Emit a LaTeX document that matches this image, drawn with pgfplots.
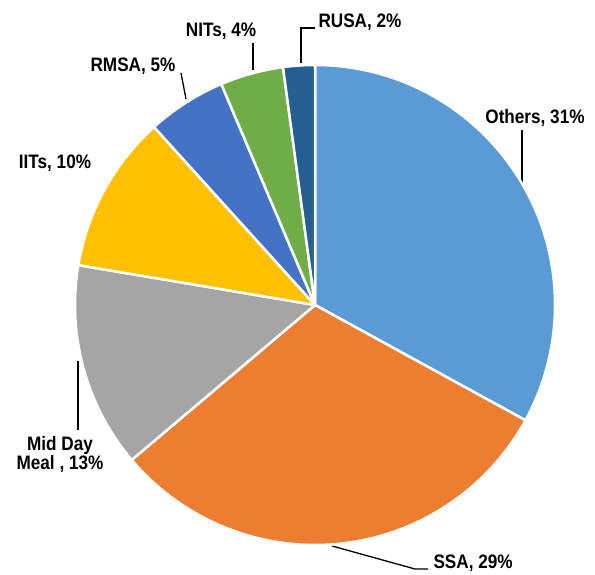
\documentclass[border=0pt]{standalone}
\usepackage{fontspec}
\setmainfont{Liberation Sans}[FakeStretch=0.88]
\usepackage{pgfplots}
\usepackage{pgfplotstable}
\pgfplotsset{compat=1.18}

\definecolor{pc0}{HTML}{5B9BD5}% Others
\definecolor{pc1}{HTML}{ED7D31}% SSA
\definecolor{pc2}{HTML}{A5A5A5}% Mid Day Meal
\definecolor{pc3}{HTML}{FFC000}% IITs
\definecolor{pc4}{HTML}{4472C4}% RMSA
\definecolor{pc5}{HTML}{70AD47}% NITs
\definecolor{pc6}{HTML}{255E91}% RUSA

% share of each scheme (%), cum = sum of the slices before it
\pgfplotstableread{
x   y   val cum idx
315 269 31  0   0
315 269 29  31  1
315 269 13  60  2
315 269 10  73  3
315 269 5   83  4
315 269 4   88  5
315 269 2   92  6
}\piedata
\def\total{94}

\begin{document}
\begin{tikzpicture}
\begin{axis}[
  x=1pt, y=1pt,
  xmin=0, xmax=595, ymin=0, ymax=574,
  hide axis, clip=false,
  font=\bfseries\fontsize{19.5}{20}\selectfont,
]
\path (axis cs:0,0) rectangle (axis cs:595,574);

% slices
\addplot[
  only marks, scatter, mark=*, mark size=0pt,
  mark options={draw opacity=0, fill opacity=0},
  visualization depends on={\thisrow{val} \as \val},
  visualization depends on={\thisrow{cum} \as \cum},
  visualization depends on={\thisrow{idx} \as \idx},
  scatter/@pre marker code/.code={%
    \pgfmathsetmacro\sa{90-\cum/\total*360}%
    \pgfmathsetmacro\ea{90-(\cum+\val)/\total*360}%
    \pgfmathtruncatemacro\k{\idx}%
    \filldraw[fill=pc\k, draw=white, fill opacity=1, draw opacity=1,
      line width=2.5pt, line join=round]
      (0,0) -- (\sa:240pt) arc[start angle=\sa, end angle=\ea, radius=240pt] -- cycle;
  },
  scatter/@post marker code/.code={},
] table[x=x, y=y] {\piedata};

% leader lines
\addplot[black, line width=1.3pt] coordinates {(522,444) (522,392)};
\addplot[black, line width=1.3pt] coordinates {(332,28) (415,5) (428,5)};
\addplot[black, line width=1.3pt] coordinates {(78,213) (78,144)};
\addplot[black, line width=1.3pt] coordinates {(181,501) (186,475)};
\addplot[black, line width=1.3pt] coordinates {(253,531) (253,504)};
\addplot[black, line width=1.3pt] coordinates {(301,511) (301,546) (315,546)};

% labels
\node at (axis cs:535,456) {Others, 31\%};
\node[anchor=west] at (axis cs:430,11) {SSA, 29\%};
\node[align=center] at (axis cs:60,120) {Mid Day\\[-1pt]Meal , 13\%};
\node at (axis cs:55,411) {IITs, 10\%};
\node at (axis cs:133,508) {RMSA, 5\%};
\node at (axis cs:221,543) {NITs, 4\%};
\node at (axis cs:360,552) {RUSA, 2\%};
\end{axis}
\end{tikzpicture}
\end{document}
